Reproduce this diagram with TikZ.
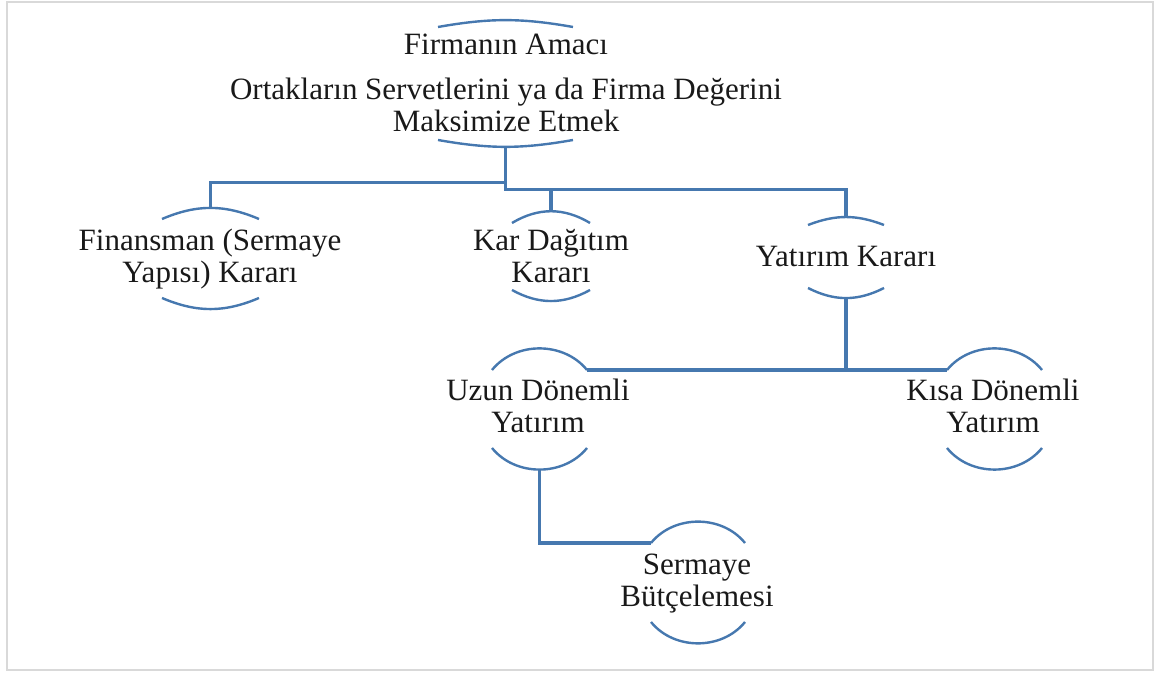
\documentclass[tikz,border=0pt]{standalone}
\usepackage{fontspec}
\setmainfont{Liberation Serif}
\definecolor{hat}{RGB}{70,120,175}
\begin{document}
\begin{tikzpicture}[x=.5pt,y=.5pt,
    yazi/.style={align=center,inner sep=0pt,anchor=base,text=black!90,font=\fontsize{15.5}{16}\selectfont},
    yay/.style={hat,line width=1.2pt},
    bag/.style={hat,line width=1.6pt}]
  \useasboundingbox (0,0) rectangle (1155,673);
  \draw[black!15,line width=1pt] (7,3) rectangle (1153,671);
  % metinler (son satirin tabani)
  \node[yazi] (amac) at (506,541) {Firmanın Amacı\\[6.5pt] Ortakların Servetlerini ya da Firma Değerini\\ Maksimize Etmek};
  \node[yazi] (finans) at (210,390) {Finansman (Sermaye\\ Yapısı) Kararı};
  \node[yazi] (kar) at (551,390) {Kar Dağıtım\\ Kararı};
  \node[yazi] (yatirim) at (846,406) {Yatırım Kararı};
  \node[yazi] (uzun) at (538,240) {Uzun Dönemli\\ Yatırım};
  \node[yazi] (kisa) at (993,240) {Kısa Dönemli\\ Yatırım};
  \node[yazi] (sermaye) at (697,66) {Sermaye\\ Bütçelemesi};
  % yaylar
  \draw[yay] (438,646) to[bend left=10] (573,646);
  \draw[yay] (438,533) to[bend right=10] coordinate[pos=.5] (amac-b) (573,533);
  \draw[yay] (162,454) to[bend left=23] coordinate[pos=.5] (finans-t) (259,454);
  \draw[yay] (162,375) to[bend right=23] (259,375);
  \draw[yay] (512,450) to[bend left=31] coordinate[pos=.5] (kar-t) (590,450);
  \draw[yay] (512,383) to[bend right=29] (590,383);
  \draw[yay] (808,448) to[bend left=21] coordinate[pos=.5] (yatirim-t) (884,448);
  \draw[yay] (808,385) to[bend right=27] coordinate[pos=.5] (yatirim-b) (884,385);
  \draw[yay] (492,303) to[bend left=51] (587,303) coordinate (uzun-r);
  \draw[yay] (492,225) to[bend right=51] coordinate[pos=.5] (uzun-b) (587,225);
  \draw[yay] (947,303) coordinate (kisa-l) to[bend left=51] (1042,303);
  \draw[yay] (947,225) to[bend right=51] (1042,225);
  \draw[yay] (651,130) coordinate (sermaye-l) to[bend left=51] (745,130);
  \draw[yay] (651,51) to[bend right=51] (745,51);
  % baglantilar
  \draw[bag] (amac-b) -- ++(0,-36) -| (finans-t);
  \draw[bag] (amac-b) -- ++(0,-43) coordinate (kol) -| (yatirim-t);
  \draw[bag] (kol) -| (kar-t);
  \draw[bag] (yatirim-b) -- (yatirim-b |- uzun-r);
  \draw[bag] (uzun-r) -- (kisa-l);
  \draw[bag] (uzun-b) |- (sermaye-l);
\end{tikzpicture}
\end{document}
